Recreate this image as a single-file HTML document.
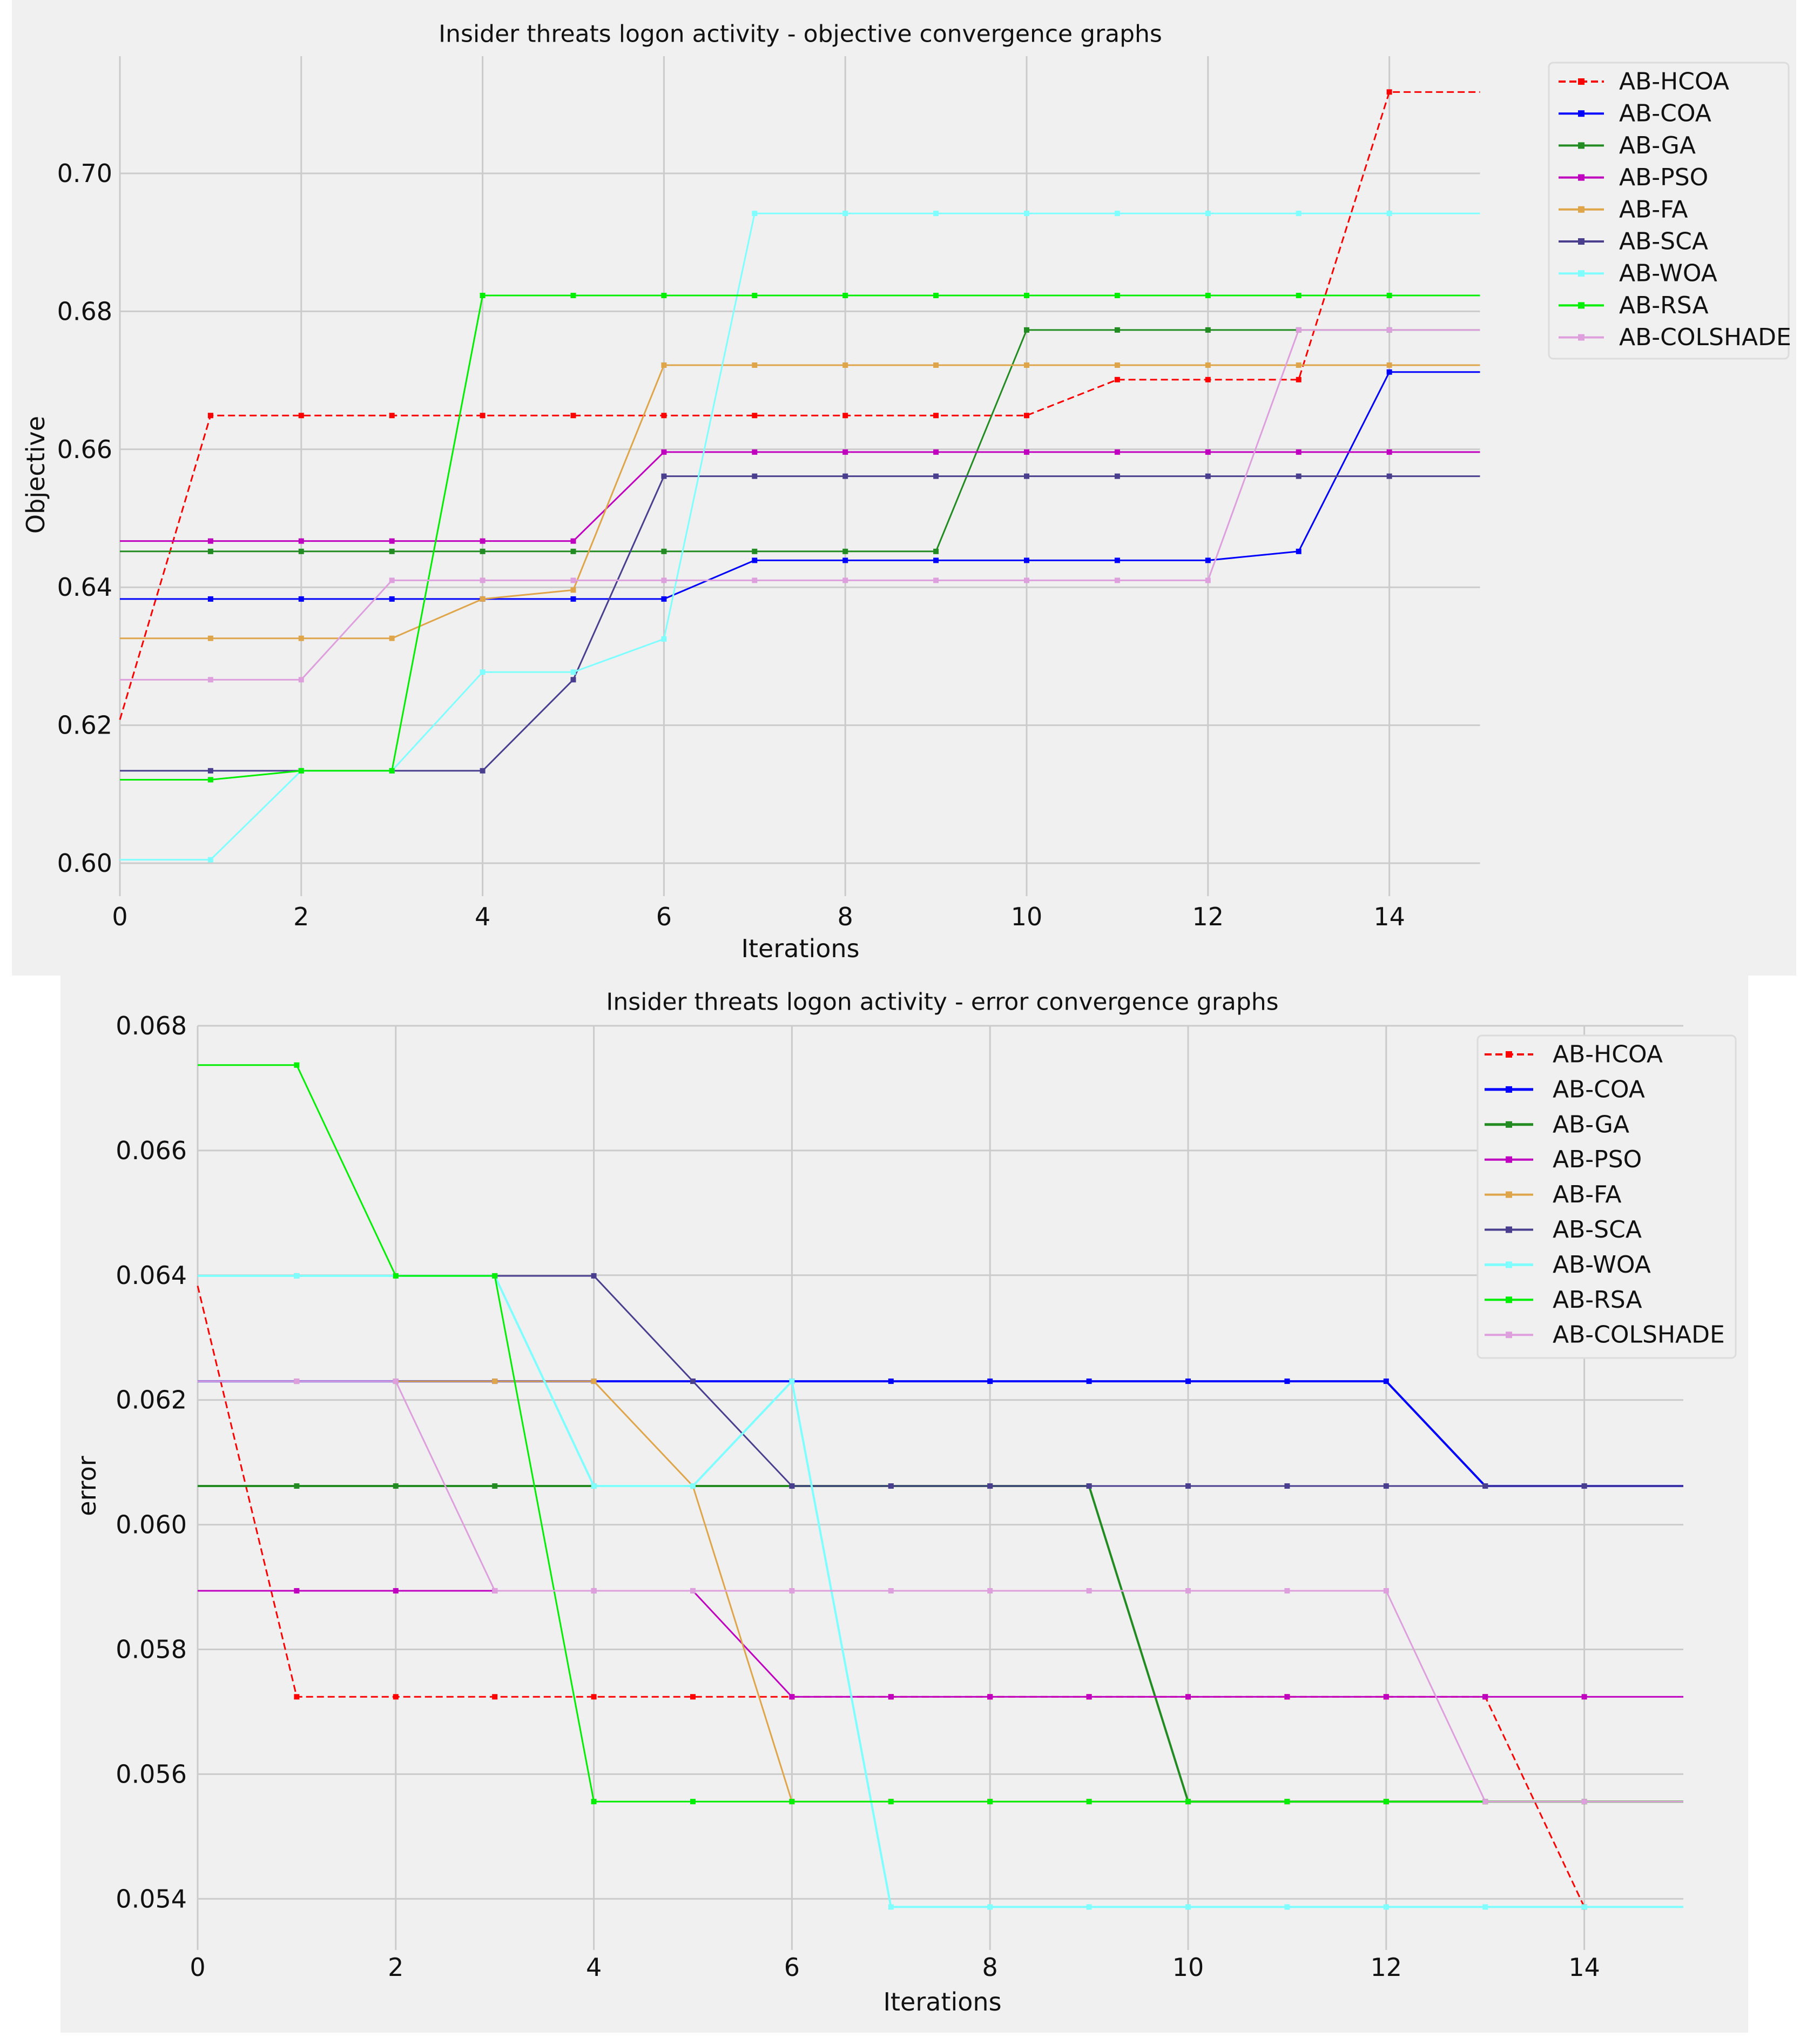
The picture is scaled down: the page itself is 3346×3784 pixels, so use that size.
<!DOCTYPE html>
<html><head><meta charset="utf-8"><style>
html,body{margin:0;padding:0;background:#fff;}
svg{display:block;font-family:"DejaVu Sans","Liberation Sans",sans-serif;}
</style></head><body>
<svg id="s" width="3346" height="3784" viewBox="0 0 3346 3784" xmlns="http://www.w3.org/2000/svg">
<rect x="22" y="0" width="3304" height="1806" fill="#f0f0f0"/>
<rect x="112" y="1806" width="3125" height="1957" fill="#f0f0f0"/>
<g id="top"></g>
<g id="bot"></g>
</svg>
<script>
const names = ["AB-HCOA","AB-COA","AB-GA","AB-PSO","AB-FA","AB-SCA","AB-WOA","AB-RSA","AB-COLSHADE"];
const colors = ["#ff0000","#0000ff","#228b22","#bf00bf","#dfa54a","#4a3f8f","#7fffff","#00ee00","#dda0dd"];
const iterations = [0,1,2,3,4,5,6,7,8,9,10,11,12,13,14,15];
const xTicks = [0,2,4,6,8,10,12,14];
const objYTicks = [0.60,0.62,0.64,0.66,0.68,0.70];
const errYTicks = [0.054,0.056,0.058,0.060,0.062,0.064,0.066,0.068];

const objHCOA = [0.6208,0.6649,0.6649,0.6649,0.6649,0.6649,0.6649,0.6649,0.6649,0.6649,0.6649,0.6701,0.6701,0.6701,0.7118,0.7118];
const objCOA = [0.6383,0.6383,0.6383,0.6383,0.6383,0.6383,0.6383,0.6439,0.6439,0.6439,0.6439,0.6439,0.6439,0.6452,0.6712,0.6712];
const objGA = [0.6452,0.6452,0.6452,0.6452,0.6452,0.6452,0.6452,0.6452,0.6452,0.6452,0.6773,0.6773,0.6773,0.6773,0.6773,0.6773];
const objPSO = [0.6467,0.6467,0.6467,0.6467,0.6467,0.6467,0.6596,0.6596,0.6596,0.6596,0.6596,0.6596,0.6596,0.6596,0.6596,0.6596];
const objFA = [0.6326,0.6326,0.6326,0.6326,0.6383,0.6396,0.6722,0.6722,0.6722,0.6722,0.6722,0.6722,0.6722,0.6722,0.6722,0.6722];
const objSCA = [0.6134,0.6134,0.6134,0.6134,0.6134,0.6266,0.6561,0.6561,0.6561,0.6561,0.6561,0.6561,0.6561,0.6561,0.6561,0.6561];
const objWOA = [0.6005,0.6005,0.6134,0.6134,0.6277,0.6277,0.6325,0.6942,0.6942,0.6942,0.6942,0.6942,0.6942,0.6942,0.6942,0.6942];
const objRSA = [0.6121,0.6121,0.6134,0.6134,0.6823,0.6823,0.6823,0.6823,0.6823,0.6823,0.6823,0.6823,0.6823,0.6823,0.6823,0.6823];
const objCOLSHADE = [0.6266,0.6266,0.6266,0.6410,0.6410,0.6410,0.6410,0.6410,0.6410,0.6410,0.6410,0.6410,0.6410,0.6773,0.6773,0.6773];

const errHCOA = [0.06383,0.05724,0.05724,0.05724,0.05724,0.05724,0.05724,0.05724,0.05724,0.05724,0.05724,0.05724,0.05724,0.05724,0.05387,0.05387];
const errCOA = [0.0623,0.0623,0.0623,0.0623,0.0623,0.0623,0.0623,0.0623,0.0623,0.0623,0.0623,0.0623,0.0623,0.06062,0.06062,0.06062];
const errGA = [0.06062,0.06062,0.06062,0.06062,0.06062,0.06062,0.06062,0.06062,0.06062,0.06062,0.05556,0.05556,0.05556,0.05556,0.05556,0.05556];
const errPSO = [0.05894,0.05894,0.05894,0.05894,0.05894,0.05894,0.05724,0.05724,0.05724,0.05724,0.05724,0.05724,0.05724,0.05724,0.05724,0.05724];
const errFA = [0.0623,0.0623,0.0623,0.0623,0.0623,0.06062,0.05556,0.05556,0.05556,0.05556,0.05556,0.05556,0.05556,0.05556,0.05556,0.05556];
const errSCA = [0.06399,0.06399,0.06399,0.06399,0.06399,0.0623,0.06062,0.06062,0.06062,0.06062,0.06062,0.06062,0.06062,0.06062,0.06062,0.06062];
const errWOA = [0.06399,0.06399,0.06399,0.06399,0.06062,0.06062,0.0623,0.05387,0.05387,0.05387,0.05387,0.05387,0.05387,0.05387,0.05387,0.05387];
const errRSA = [0.06737,0.06737,0.06399,0.06399,0.05556,0.05556,0.05556,0.05556,0.05556,0.05556,0.05556,0.05556,0.05556,0.05556,0.05556,0.05556];
const errCOLSHADE = [0.0623,0.0623,0.0623,0.05894,0.05894,0.05894,0.05894,0.05894,0.05894,0.05894,0.05894,0.05894,0.05894,0.05556,0.05556,0.05556];

const objSeries = [objHCOA,objCOA,objGA,objPSO,objFA,objSCA,objWOA,objRSA,objCOLSHADE];
const errSeries = [errHCOA,errCOA,errGA,errPSO,errFA,errSCA,errWOA,errRSA,errCOLSHADE];

const NS = "http://www.w3.org/2000/svg";
function mk(parent, tag, attrs, text){
  const e = document.createElementNS(NS, tag);
  for (const k in attrs) e.setAttribute(k, attrs[k]);
  if (text !== undefined) e.textContent = text;
  parent.appendChild(e);
  return e;
}

function chart(g, cfg){
  const X = v => cfg.x0 + v*cfg.ux;
  const Y = v => cfg.yRef + (cfg.vRef - v)*cfg.uy;
  xTicks.forEach(t=>{
    const l = mk(g,'line',{x1:X(t),x2:X(t),y1:cfg.top,y2:cfg.bottom,stroke:'#cbcbcb','stroke-width':3});
    
    
    const tx = mk(g,'text',{x:X(t),y:cfg.xTickY,'font-size':46,'text-anchor':'middle','dominant-baseline':'central',fill:'#111'},String(t));
    
    
  });
  cfg.yTicks.forEach(t=>{
    const l = mk(g,'line',{x1:cfg.x0,x2:X(15),y1:Y(t),y2:Y(t),stroke:'#cbcbcb','stroke-width':3});
    
    
    const tx = mk(g,'text',{x:cfg.yTickX,y:Y(t),'font-size':46,'text-anchor':'end','dominant-baseline':'central',fill:'#111'},t.toFixed(cfg.dec));
    
    
  });
  cfg.series.forEach((s,i)=>{
    const sg = mk(g,'g',{});
    
    
    const pts = s.map((v,j)=>X(iterations[j])+','+Y(v)).join(' ');
    const a = {points:pts,fill:'none',stroke:colors[i],'stroke-width':cfg.lw[i],'stroke-linejoin':'round'};
    if (i===0) a['stroke-dasharray']='13 7';
    const pl = mk(sg,'polyline',a);
    
    
    s.forEach((v,j)=>{
      if (j===0 || j===15) return;
      const m = mk(sg,'rect',{x:X(iterations[j])-5,y:Y(v)-5,width:10,height:10,fill:colors[i]});
      
      
    });
  });
  const ti = mk(g,'text',{x:cfg.titleX,y:cfg.titleY,'font-size':44,'text-anchor':'middle','dominant-baseline':'central',fill:'#111'},cfg.title);
  
  
  const xl = mk(g,'text',{x:cfg.titleX,y:cfg.xLabelY,'font-size':46,'text-anchor':'middle','dominant-baseline':'central',fill:'#111'},'Iterations');
  
  
  const yl = mk(g,'text',{x:0,y:0,'font-size':46,'text-anchor':'middle','dominant-baseline':'central',fill:'#111',transform:`translate(${cfg.yLabelX},${cfg.yLabelY}) rotate(-90)`},cfg.ylabel);
  
  
  const L = cfg.legend;
  const lg = mk(g,'g',{});
  
  
  mk(lg,'rect',{x:L.x,y:L.y,width:L.w,height:L.h,rx:8,fill:'#f0f0f0',stroke:'#dcdcdc','stroke-width':3});
  names.forEach((n,i)=>{
    const yy = L.first + i*L.step;
    const eg = mk(lg,'g',{});
    
    
    const a = {x1:L.lx1,x2:L.lx2,y1:yy,y2:yy,stroke:colors[i],'stroke-width':cfg.lw[i]+1};
    if (i===0) a['stroke-dasharray']='13 7';
    mk(eg,'line',a);
    mk(eg,'rect',{x:(L.lx1+L.lx2)/2-6,y:yy-6,width:12,height:12,fill:colors[i]});
    mk(eg,'text',{x:L.tx,y:yy,'font-size':44,'dominant-baseline':'central',fill:'#111'},n);
  });
}

chart(document.getElementById('top'),{
  x0:222, ux:167.9, top:104, bottom:1659,
  yRef:1598, vRef:0.60, uy:12770, yTicks:objYTicks, dec:2,
  xTickY:1697, yTickX:208, series:objSeries, lw:[3,3,3,3,3,3,3,3,3],
  title:'Insider threats logon activity -  objective convergence graphs', titleX:1482, titleY:63,
  xLabelY:1756, ylabel:'Objective', yLabelX:66, yLabelY:879,
  legend:{x:2868,y:116,w:444,h:548,first:151,step:59.2,lx1:2886,lx2:2970,tx:2998}
});
chart(document.getElementById('bot'),{
  x0:366, ux:183.4, top:1899, bottom:3610,
  yRef:1899, vRef:0.068, uy:115450, yTicks:errYTicks, dec:3,
  xTickY:3642, yTickX:346, series:errSeries, lw:[3,4,4,3,3,3,4,3,3],
  title:'Insider threats logon activity -  error convergence graphs', titleX:1745, titleY:1855,
  xLabelY:3706, ylabel:'error', yLabelX:161, yLabelY:2751,
  legend:{x:2736,y:1917,w:478,h:597,first:1952,step:64.9,lx1:2749,lx2:2839,tx:2875}
});
</script>
</body></html>
